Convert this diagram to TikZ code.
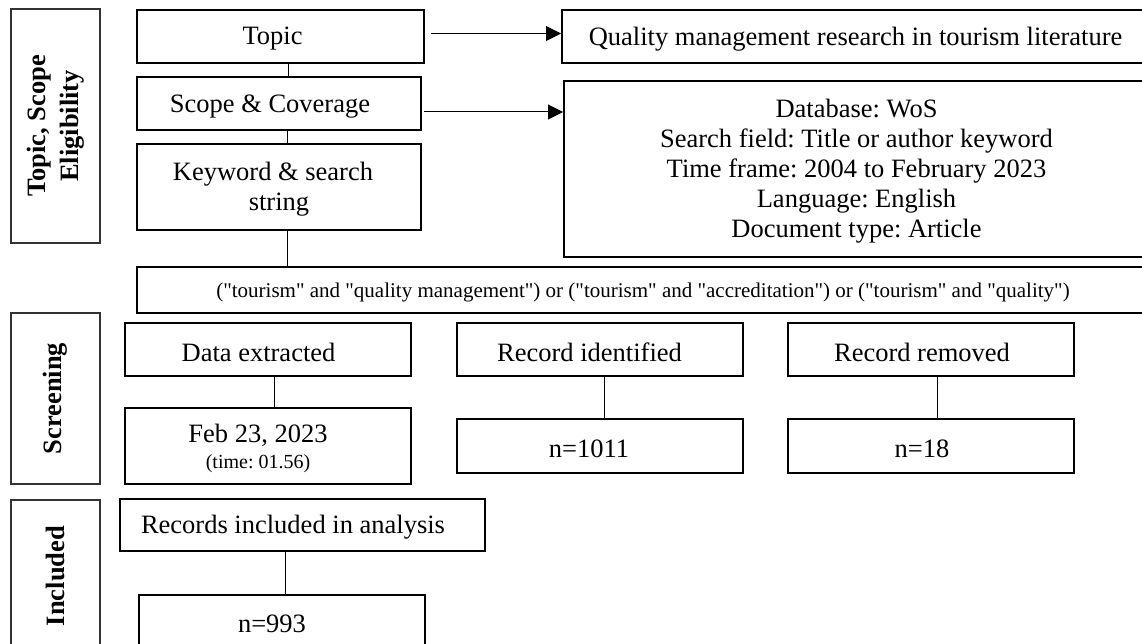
\documentclass[tikz,border=0pt]{standalone}
\usepackage{fontspec}
\setmainfont{Liberation Serif}
\usetikzlibrary{arrows.meta,calc}
\newcommand\dq{\textquotedbl}
\tikzset{
  box/.style={draw, line width=2pt, inner sep=0pt, fill=white},
  sidebox/.style={draw=black!80, line width=1.1pt, inner sep=0pt},
  txt/.style={inner sep=0pt, yshift=-2.5pt, font=\fontsize{26.5}{30}\selectfont\frenchspacing, align=center},
  sidetxt/.style={inner sep=0pt, font=\fontsize{26.5}{33}\selectfont\bfseries, align=center, rotate=90},
  link/.style={line width=1pt},
  arr/.style={line width=1pt, -{Triangle[length=15pt,width=15pt]}}
}
\begin{document}
\begin{tikzpicture}[x=1pt,y=-1pt]
\useasboundingbox (0,0) rectangle (1142,644);
\fill[white] (0,0) rectangle (1142,644);
\clip (0,0) rectangle (1142,644);

% side label boxes
\node[sidebox, minimum width=89pt, minimum height=234pt] (L1) at (55.5,126) {};
\node[sidetxt] (L1t) at (L1.center) {Topic, Scope\\Eligibility};
\node[sidebox, minimum width=89pt, minimum height=171pt] (L2) at (55.5,398.5) {};
\node[sidetxt] (L2t) at (L2.center) {Screening};
\node[sidebox, minimum width=89pt, minimum height=152pt] (L3) at (55.5,576) {};
\node[sidetxt] (L3t) at (L3.center) {Included};

% top section
\node[box, minimum width=287pt, minimum height=53pt] (topic) at (280.5,36.5) {};
\node[txt] (topicT) at ([xshift=-8pt]topic.center) {Topic};
\node[box, minimum width=284pt, minimum height=53pt] (scope) at (279,103.5) {};
\node[txt] (scopeT) at ([xshift=-9pt,yshift=-1pt]scope.center) {Scope \& Coverage};
\node[box, minimum width=284pt, minimum height=86pt] (kw) at (279,187) {};
\node[txt] (kwT) at ([xshift=-6pt]kw.center) {Keyword \& search\\\hspace*{12pt}string};

\node[box, minimum width=587pt, minimum height=53pt] (quality) at (855.5,36.5) {};
\node[txt] (qualityT) at (quality.center) {Quality management research in tourism literature};
\node[box, minimum width=585pt, minimum height=176pt] (db) at (856.5,169) {};
\node[txt] (dbT) at (db.center) {Database: WoS\\Search field: Title or author keyword\\Time frame: 2004 to February 2023\\Language: English\\Document type: Article};

\node[box, minimum width=1012pt, minimum height=46pt] (search) at (643,290) {};
\node[txt, font=\fontsize{21}{25}\selectfont] (searchT) at (search.center) {(\dq tourism\dq{} and \dq quality management\dq) or (\dq tourism\dq{} and \dq accreditation\dq) or (\dq tourism\dq{} and \dq quality\dq)};

% screening
\node[box, minimum width=286pt, minimum height=53pt] (data) at (268,349.5) {};
\node[txt] (dataT) at ([xshift=-9.5pt]data.center) {Data extracted};
\node[box, minimum width=286pt, minimum height=76pt] (feb) at (268,446) {};
\node[txt] (febT) at ([xshift=-10pt]feb.center) {Feb 23, 2023\\[-4pt]{\fontsize{20}{22}\selectfont (time: 01.56)}};

\node[box, minimum width=286pt, minimum height=53pt] (ident) at (600,349.5) {};
\node[txt] (identT) at ([xshift=-10.5pt]ident.center) {Record identified};
\node[box, minimum width=286pt, minimum height=54pt] (n1011) at (600,446) {};
\node[txt] (n1011T) at ([xshift=-11pt]n1011.center) {n=1011};

\node[box, minimum width=286pt, minimum height=53pt] (removed) at (931,349.5) {};
\node[txt] (removedT) at ([xshift=-9pt]removed.center) {Record removed};
\node[box, minimum width=286pt, minimum height=54pt] (n18) at (931,446) {};
\node[txt] (n18T) at ([xshift=-9pt]n18.center) {n=18};

% included
\node[box, minimum width=365pt, minimum height=52pt] (incl) at (302.5,525) {};
\node[txt] (inclT) at ([xshift=-9.5pt]incl.center) {Records included in analysis};
\node[box, minimum width=286pt, minimum height=53pt] (n993) at (282,621.5) {};
\node[txt] (n993T) at ([xshift=-10pt]n993.center) {n=993};

% connectors
\draw[link] ([xshift=7.5pt]topic.south) -- ([xshift=7.5pt]topic.south |- scope.north);
\draw[link] ([xshift=8pt]scope.south) -- ([xshift=8pt]scope.south |- kw.north);
\draw[link] ([xshift=8pt]kw.south) -- ([xshift=8pt]kw.south |- search.north);
\draw[link] ([xshift=6.5pt]data.south) -- ([xshift=6.5pt]data.south |- feb.north);
\draw[link] ([xshift=4.5pt]ident.south) -- ([xshift=4.5pt]ident.south |- n1011.north);
\draw[link] ([xshift=6pt]removed.south) -- ([xshift=6pt]removed.south |- n18.north);
\draw[link] ([xshift=-17.5pt]incl.south) -- ([xshift=-17.5pt]incl.south |- n993.north);

% arrows
\draw[arr] ([xshift=6pt,yshift=3pt]topic.east) -- ([yshift=3pt]quality.west);
\draw[arr] ([xshift=2pt,yshift=-8.5pt]scope.east) -- ([yshift=-8.5pt]scope.east -| db.west);
\end{tikzpicture}
\end{document}
